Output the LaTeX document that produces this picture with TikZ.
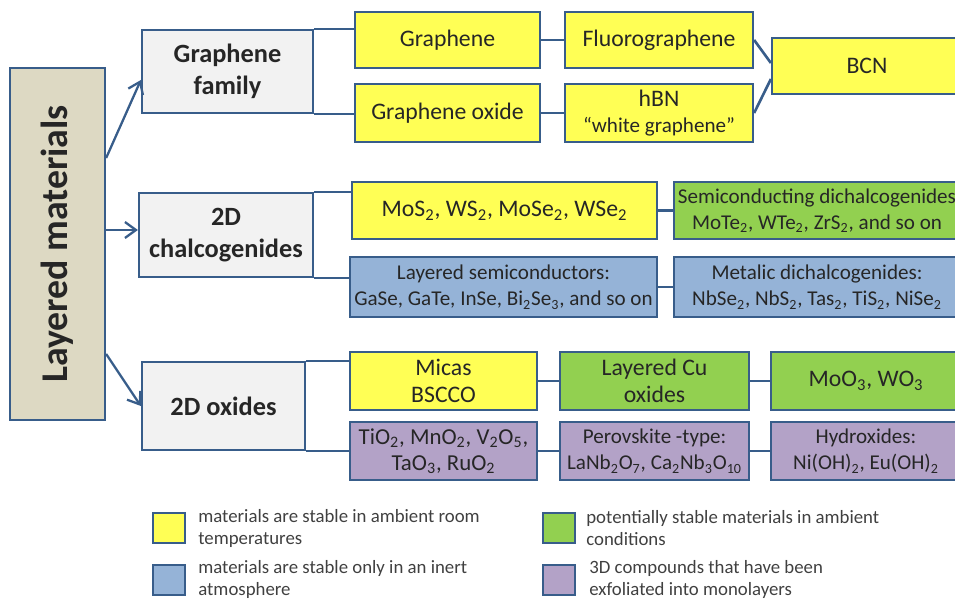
\documentclass[tikz,border=0pt]{standalone}
\usepackage{fontspec}
\setmainfont{Carlito}
\usetikzlibrary{positioning,arrows.meta}

\definecolor{edgeblue}{HTML}{385D8A}
\definecolor{tanfill}{HTML}{DDD9C3}
\definecolor{greyfill}{HTML}{F2F2F2}
\definecolor{yellowfill}{HTML}{FFFF55}
\definecolor{greenfill}{HTML}{92D050}
\definecolor{bluefill}{HTML}{95B3D7}
\definecolor{purplefill}{HTML}{B3A2C7}

\tikzset{
  box/.style={draw=edgeblue, line width=1.3pt, inner sep=1pt, align=center, text=black!85},
  bigtext/.style={font=\fontsize{13.5}{15}\selectfont},
  twoline/.style={font=\fontsize{12}{15}\selectfont},
  family/.style={box, fill=greyfill, font=\fontsize{15}{18}\selectfont\bfseries},
  ybox/.style={box, fill=yellowfill},
  gbox/.style={box, fill=greenfill},
  bbox/.style={box, fill=bluefill},
  pbox/.style={box, fill=purplefill},
  link/.style={draw=edgeblue, line width=1.5pt},
  branch/.style={draw=edgeblue, line width=1.3pt, -{Straight Barb[length=2.2mm,width=3.2mm]}},
  keybox/.style={draw=edgeblue, line width=1.3pt, minimum width=0.64cm, minimum height=0.6cm, inner sep=0pt},
  keytext/.style={anchor=west, align=left, inner sep=0pt, text=black!75, font=\fontsize{10.7}{12.5}\selectfont}
}

\begin{document}
\begin{tikzpicture}[x=0.02cm, y=-0.02cm]
  \useasboundingbox (0,0) rectangle (955,604);

  % Root node
  \node[box, fill=tanfill, minimum width=1.9cm, minimum height=7.04cm] (layered) at (57.5,244)
    {\rotatebox{90}{\fontsize{21.5}{24}\selectfont\bfseries Layered materials}};

  % Define the family nodes
  \node[family, minimum width=3.42cm, minimum height=1.66cm] (grfam) at (227.5,71.5) {Graphene\\family};
  \node[family, minimum width=3.48cm, minimum height=1.68cm] (chalc) at (226,235) {2D\\chalcogenides};
  \node[family, minimum width=3.26cm, minimum height=1.76cm] (oxides) at (223.5,406) {2D oxides};

  % Define the nodes of the graphene family
  \node[ybox, bigtext, minimum width=3.7cm, minimum height=1.12cm] (graphene) at (447.5,40) {Graphene};
  \node[ybox, bigtext, minimum width=3.76cm, minimum height=1.12cm] (fluoro) at (659,40) {Fluorographene};
  \node[ybox, bigtext, minimum width=3.7cm, minimum height=1.16cm] (groxide) at (447.5,113) {Graphene oxide};
  \node[ybox, twoline, minimum width=3.76cm, minimum height=1.16cm] (hbn) at (659,113)
    {{\fontsize{13.5}{15}\selectfont hBN}\\``white graphene''};
  \node[ybox, bigtext, minimum width=3.8cm, minimum height=1.12cm] (bcn) at (867,66) {BCN};

  % Define the nodes of the chalcogenides
  \node[ybox, bigtext, minimum width=6.1cm, minimum height=1.14cm] (mos) at (504.5,210.5)
    {MoS\textsubscript{2}, WS\textsubscript{2}, MoSe\textsubscript{2}, WSe\textsubscript{2}};
  \node[gbox, twoline, minimum width=5.72cm, minimum height=1.14cm] (semidc) at (817,210.5)
    {Semiconducting dichalcogenides\\MoTe\textsubscript{2}, WTe\textsubscript{2}, ZrS\textsubscript{2}, and so on};
  \node[bbox, twoline, minimum width=6.14cm, minimum height=1.2cm] (laysemi) at (503.5,287)
    {Layered semiconductors:\\GaSe, GaTe, InSe, Bi\textsubscript{2}Se\textsubscript{3}, and so on};
  \node[bbox, twoline, minimum width=5.72cm, minimum height=1.2cm] (metal) at (817,287)
    {Metalic dichalcogenides:\\NbSe\textsubscript{2}, NbS\textsubscript{2}, Tas\textsubscript{2}, TiS\textsubscript{2}, NiSe\textsubscript{2}};

  % Define the nodes of the oxides
  \node[ybox, bigtext, minimum width=3.74cm, minimum height=1.16cm] (micas) at (443.5,381) {Micas\\BSCCO};
  \node[gbox, bigtext, minimum width=3.78cm, minimum height=1.16cm] (cuox) at (654.5,381) {Layered Cu\\oxides};
  \node[gbox, bigtext, minimum width=3.8cm, minimum height=1.16cm] (moo) at (866,381)
    {MoO\textsubscript{3}, WO\textsubscript{3}};
  \node[pbox, twoline, minimum width=3.74cm, minimum height=1.16cm] (tio) at (443.5,451)
    {\fontsize{13}{15}\selectfont TiO\textsubscript{2}, MnO\textsubscript{2}, V\textsubscript{2}O\textsubscript{5},\\\fontsize{13}{15}\selectfont TaO\textsubscript{3}, RuO\textsubscript{2}};
  \node[pbox, twoline, minimum width=3.78cm, minimum height=1.16cm] (perov) at (654.5,451)
    {Perovskite -type:\\LaNb\textsubscript{2}O\textsubscript{7}, Ca\textsubscript{2}Nb\textsubscript{3}O\textsubscript{10}};
  \node[pbox, twoline, minimum width=3.8cm, minimum height=1.16cm] (hydro) at (866,451)
    {Hydroxides:\\Ni(OH)\textsubscript{2}, Eu(OH)\textsubscript{2}};

  % Draw the arrows from the root
  \draw[branch] ([yshift=1.72cm]layered.east) -- ([yshift=-0.17cm]grfam.west);
  \draw[branch] ([yshift=0.1cm]layered.east |- chalc.west) -- ([yshift=0.1cm]chalc.west);
  \draw[branch] ([yshift=-2.2cm]layered.east) -- (oxides.west);

  % Draw the links between the boxes
  \draw[link] (grfam.north east) -- (grfam.north east -| graphene.west);
  \draw[link] (grfam.south east) -- (grfam.south east -| groxide.west);
  \draw[link] (graphene) -- (fluoro);
  \draw[link] (groxide) -- (hbn);
  \draw[link] (fluoro.east) -- ([yshift=0.06cm]bcn.west);
  \draw[link] (hbn.east) -- ([yshift=-0.26cm]bcn.west);

  \draw[link] (chalc.north east) -- (chalc.north east -| mos.west);
  \draw[link] (chalc.south east) -- (chalc.south east -| laysemi.west);
  \draw[link] (mos) -- (semidc);
  \draw[link] (laysemi) -- (metal);

  \draw[link] (oxides.north east) -- (oxides.north east -| micas.west);
  \draw[link] (oxides.south east) -- (oxides.south east -| tio.west);
  \draw[link] (micas) -- (cuox);
  \draw[link] (cuox) -- (moo);
  \draw[link] (tio) -- (perov);
  \draw[link] (perov) -- (hydro);

  % Legend
  \node[keybox, fill=yellowfill] (keyyellow) at (169,528) {};
  \node[keybox, fill=bluefill] (keyblue) at (169,580) {};
  \node[keybox, fill=greenfill] (keygreen) at (559,528) {};
  \node[keybox, fill=purplefill] (keypurple) at (559,580) {};
  \node[keytext] (txtyellow) at (198,528) {materials are stable in ambient room\\temperatures};
  \node[keytext] (txtblue) at (198,579) {materials are stable only in an inert\\atmosphere};
  \node[keytext] (txtgreen) at (586,528) {potentially stable materials in ambient\\conditions};
  \node[keytext] (txtpurple) at (589,579) {3D compounds that have been\\exfoliated into monolayers};
\end{tikzpicture}
\end{document}
